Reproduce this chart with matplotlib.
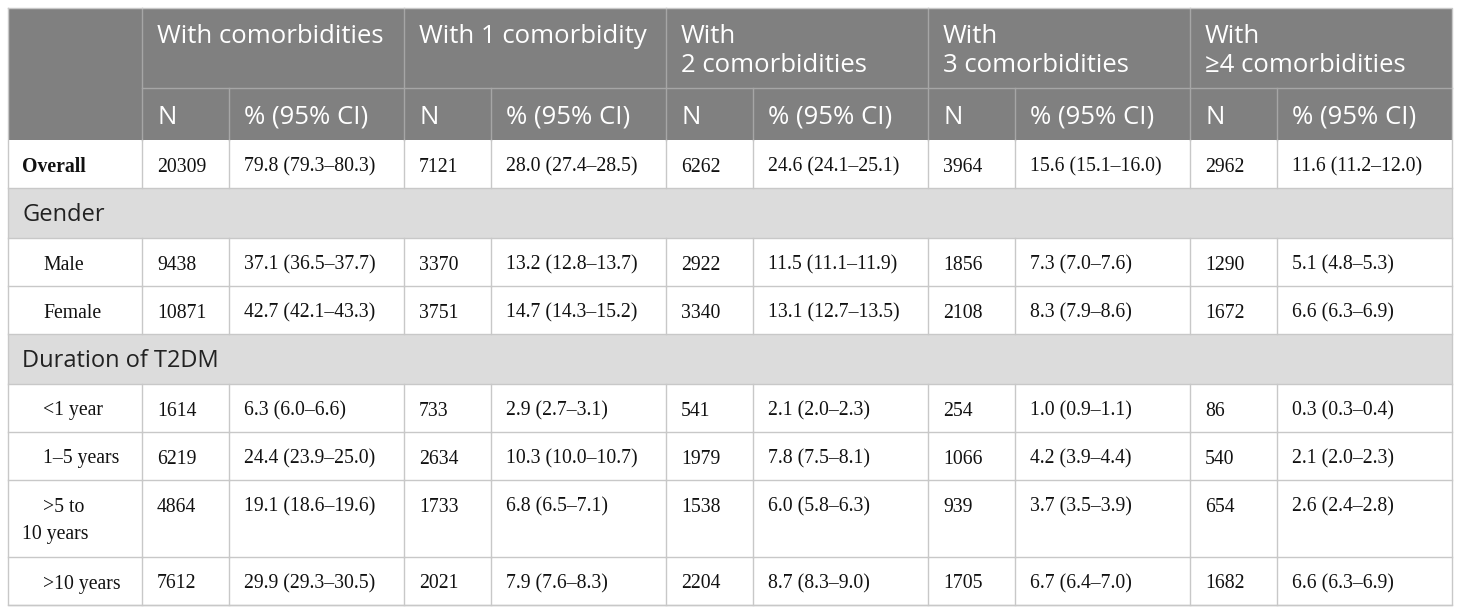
import matplotlib.pyplot as plt

groups = ["With comorbidities", "With 1 comorbidity", "With\n2 comorbidities",
          "With\n3 comorbidities", "With\n\u22654 comorbidities"]
sub_heads = ["N", "% (95% CI)"]

row_labels = ["Overall", "Male", "Female", "<1 year", "1\u20135 years",
              ">5 to\n10 years", ">10 years"]
sections = {1: "Gender", 3: "Duration of T2DM"}  # section band before row index

n_values = [
    [20309, 7121, 6262, 3964, 2962],
    [9438, 3370, 2922, 1856, 1290],
    [10871, 3751, 3340, 2108, 1672],
    [1614, 733, 541, 254, 86],
    [6219, 2634, 1979, 1066, 540],
    [4864, 1733, 1538, 939, 654],
    [7612, 2021, 2204, 1705, 1682],
]
pct_values = [
    ["79.8 (79.3\u201380.3)", "28.0 (27.4\u201328.5)", "24.6 (24.1\u201325.1)", "15.6 (15.1\u201316.0)", "11.6 (11.2\u201312.0)"],
    ["37.1 (36.5\u201337.7)", "13.2 (12.8\u201313.7)", "11.5 (11.1\u201311.9)", "7.3 (7.0\u20137.6)", "5.1 (4.8\u20135.3)"],
    ["42.7 (42.1\u201343.3)", "14.7 (14.3\u201315.2)", "13.1 (12.7\u201313.5)", "8.3 (7.9\u20138.6)", "6.6 (6.3\u20136.9)"],
    ["6.3 (6.0\u20136.6)", "2.9 (2.7\u20133.1)", "2.1 (2.0\u20132.3)", "1.0 (0.9\u20131.1)", "0.3 (0.3\u20130.4)"],
    ["24.4 (23.9\u201325.0)", "10.3 (10.0\u201310.7)", "7.8 (7.5\u20138.1)", "4.2 (3.9\u20134.4)", "2.1 (2.0\u20132.3)"],
    ["19.1 (18.6\u201319.6)", "6.8 (6.5\u20137.1)", "6.0 (5.8\u20136.3)", "3.7 (3.5\u20133.9)", "2.6 (2.4\u20132.8)"],
    ["29.9 (29.3\u201330.5)", "7.9 (7.6\u20138.3)", "8.7 (8.3\u20139.0)", "6.7 (6.4\u20137.0)", "6.6 (6.3\u20136.9)"],
]

# layout in pixels
W, H = 1460, 613
col_x = [8, 142, 229, 404, 491, 666, 753, 928, 1015, 1190, 1277, 1452]
head1 = (8, 88)
head2 = (88, 140)
row_h = [48, 48, 48, 48, 48, 77, 48]
band_h = 50

head_bg = "#808080"
head_line = "#a6a6a6"
band_bg = "#dcdcdc"
grid = "#c8c8c8"
ink = "#111111"
sans = "Open Sans"
serif = "Liberation Serif"
hfs, bfs = 18.5, 14.2

fig = plt.figure(figsize=(W / 100, H / 100), dpi=100)
ax = fig.add_axes([0, 0, 1, 1])
ax.set_xlim(0, W)
ax.set_ylim(H, 0)
ax.axis("off")

left, right = col_x[0], col_x[-1]

# header
ax.fill_between([left, right], head1[0], head2[1], color=head_bg, lw=0)
ax.plot([col_x[1], right], [head1[1]] * 2, color=head_line, lw=1)
for i, x in enumerate(col_x[1:-1]):
    top = head1[0] if i % 2 == 0 else head2[0]
    ax.plot([x, x], [top, head2[1]], color=head_line, lw=1)
for g, name in enumerate(groups):
    for k, line in enumerate(name.split("\n")):
        ax.text(col_x[1 + 2 * g] + 15, 43 + 29 * k, line, color="white",
                fontsize=hfs, family=sans, va="baseline", ha="left")
    for s, sub in enumerate(sub_heads):
        ax.text(col_x[1 + 2 * g + s] + 15, 124, sub, color="white",
                fontsize=hfs, family=sans, va="baseline", ha="left")

# body
y = head2[1]
for r, label in enumerate(row_labels):
    if r in sections:
        ax.fill_between([left, right], y, y + band_h, color=band_bg, lw=0)
        ax.text(left + 14, y + 33, sections[r], fontsize=17,
                family=sans, color="#222222", va="baseline", ha="left")
        ax.plot([left, right], [y + band_h] * 2, color=grid, lw=1)
        y += band_h
    h = row_h[r]
    ty = y + 31.5
    if r == 0:
        ax.text(left + 14, ty, label, fontsize=bfs, family=serif,
                weight="bold", va="baseline", ha="left", color=ink)
    elif "\n" in label:
        first, second = label.split("\n")
        ax.text(left + 35, ty, first, fontsize=bfs, family=serif,
                va="baseline", ha="left", color=ink)
        ax.text(left + 14, ty + 27, second, fontsize=bfs, family=serif,
                va="baseline", ha="left", color=ink)
    else:
        ax.text(left + 35, ty, label, fontsize=bfs, family=serif,
                va="baseline", ha="left", color=ink)
    for g in range(len(groups)):
        ax.text(col_x[1 + 2 * g] + 15, ty, str(n_values[r][g]), fontsize=bfs,
                family=serif, va="baseline", ha="left", color=ink)
        ax.text(col_x[2 + 2 * g] + 15, ty, pct_values[r][g], fontsize=bfs,
                family=serif, va="baseline", ha="left", color=ink)
    for x in col_x[1:-1]:
        ax.plot([x, x], [y, y + h], color=grid, lw=1)
    ax.plot([left, right], [y + h] * 2, color=grid, lw=1)
    y += h

# outer border
ax.plot([left, right, right, left, left], [head1[0], head1[0], y, y, head1[0]],
        color=grid, lw=1)

fig.savefig("out.png", dpi=100)
